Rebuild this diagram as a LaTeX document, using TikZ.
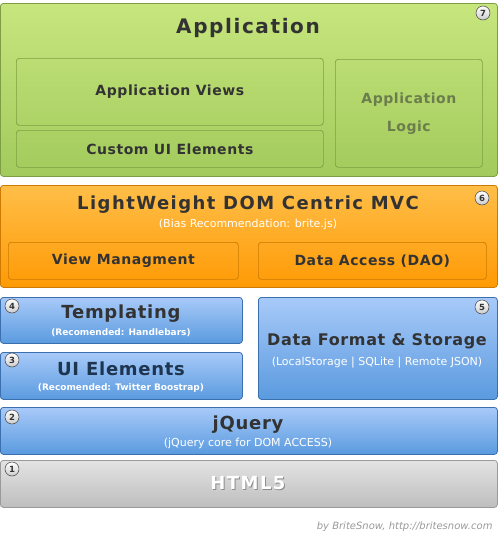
\documentclass[tikz,border=0pt]{standalone}
\usepackage{fontspec}
\setmainfont{DejaVu Sans}
\newfontfamily\widefont[LetterSpace=8]{DejaVu Sans}
\newfontfamily\midfont[LetterSpace=4]{DejaVu Sans}
\usetikzlibrary{positioning}

\definecolor{greentop}{HTML}{C7E67E}
\definecolor{greenbot}{HTML}{A2CA5C}
\definecolor{greenline}{HTML}{7E9E45}
\definecolor{orangetop}{HTML}{FFBE48}
\definecolor{orangebot}{HTML}{FF9A05}
\definecolor{orangeline}{HTML}{CC7A00}
\definecolor{bluetop}{HTML}{A8CAF9}
\definecolor{bluebot}{HTML}{5A9ADF}
\definecolor{blueline}{HTML}{3B6FAE}
\definecolor{graytop}{HTML}{E3E3E3}
\definecolor{graybot}{HTML}{BEBEBE}
\definecolor{grayline}{HTML}{9A9A9A}
\definecolor{textdark}{HTML}{333333}
\definecolor{logictext}{HTML}{6B7D4C}
\definecolor{navytext}{HTML}{1E3550}

\begin{document}
\begin{tikzpicture}
        [x=1pt, y=-1pt,
        layer/.style={rounded corners=3pt, anchor=north west, inner sep=0pt, line width=0.8pt},
        green/.style={layer, top color=greentop, bottom color=greenbot, draw=greenline},
        orange/.style={layer, top color=orangetop, bottom color=orangebot, draw=orangeline},
        blue/.style={layer, top color=bluetop, bottom color=bluebot, draw=blueline},
        gray/.style={layer, top color=graytop, bottom color=graybot, draw=grayline},
        inner/.style={rounded corners=3pt, anchor=north west, inner sep=0pt, line width=0.7pt},
        badge/.style={circle, draw=black!75, line width=0.5pt, top color=white, bottom color=black!20,
          minimum size=14pt, inner sep=0pt, font=\fontsize{8.5}{8.5}\bfseries, text=textdark},
        title/.style={font=\fontsize{18}{18}\bfseries\widefont, text=textdark},
        label/.style={font=\fontsize{14}{14}\bfseries\midfont, text=textdark},
        note/.style={font=\fontsize{11}{11}\selectfont, text=white}]

        \useasboundingbox (0,0) rectangle (500,544);

        % layer 7: application
        \node[green, minimum width=497pt, minimum height=173pt] (app) at (0,3) {};
        \node[inner, draw=greenline, minimum width=307pt, minimum height=67pt] (views) at (16,58) {};
        \node[inner, draw=greenline, minimum width=307pt, minimum height=37pt] (custom) at (16,130) {};
        \node[inner, draw=greenline, minimum width=147pt, minimum height=108pt] (logic) at (335,59) {};
        \node[title, font=\fontsize{20}{20}\bfseries\widefont] (apptitle) at (248,28) {Application};
        \node[label] at (views.center) {Application Views};
        \node[label] at (custom.center) {Custom UI Elements};
        \node[label, text=logictext, align=center, font=\fontsize{14}{28}\bfseries\midfont] at (logic.center) {Application\\Logic};

        % layer 6: mvc
        \node[orange, minimum width=497pt, minimum height=102pt] (mvc) at (0,185) {};
        \node[inner, draw=orangeline, minimum width=230pt, minimum height=37pt] (viewmgmt) at (8,242) {};
        \node[inner, draw=orangeline, minimum width=228pt, minimum height=37pt] (dao) at (258,242) {};
        \node[title] (mvctitle) at (248,205) {LightWeight DOM Centric MVC};
        \node[note] at (248,224) {(Bias Recommendation: brite.js)};
        \node[label] at (viewmgmt.center) {View Managment};
        \node[label] at (dao.center) {Data Access (DAO)};

        % layers 3 to 5
        \node[blue, minimum width=242pt, minimum height=46pt] (tmpl) at (0,297) {};
        \node[blue, minimum width=242pt, minimum height=47pt] (uiel) at (0,352) {};
        \node[blue, minimum width=239pt, minimum height=102pt] (data) at (258,297) {};
        \node[title, font=\fontsize{18}{18}\bfseries\midfont] at (121,314) {Templating};
        \node[note, font=\fontsize{9}{9}\bfseries] at (121,333) {(Recomended: Handlebars)};
        \node[title, font=\fontsize{18}{18}\bfseries\midfont, text=navytext] at (121,369) {UI Elements};
        \node[note, font=\fontsize{9}{9}\bfseries] at (121,388) {(Recomended: Twitter Boostrap)};
        \node[title, font=\fontsize{16}{16}\bfseries\midfont] at (377,341) {Data Format \& Storage};
        \node[note] at (377,363) {(LocalStorage | SQLite | Remote JSON)};

        % layer 2: jquery
        \node[blue, minimum width=497pt, minimum height=47pt] (jq) at (0,407) {};
        \node[title, font=\fontsize{18}{18}\bfseries\midfont] at (248,425) {jQuery};
        \node[note] at (248,443) {(jQuery core for DOM ACCESS)};

        % layer 1: html5
        \node[gray, minimum width=497pt, minimum height=47pt] (html) at (0,460) {};
        \node[title, text=black!45] at (249,484) {HTML5};
        \node[title, text=white] at (248,483) {HTML5};

        % numbered badges
        \node[badge] at (483,13) {7};
        \node[badge] at (482,198) {6};
        \node[badge] at (482,307) {5};
        \node[badge] at (12,306) {4};
        \node[badge] at (12,360) {3};
        \node[badge] at (12,417) {2};
        \node[badge] at (12,469) {1};

        % credit
        \node[anchor=east, font=\fontsize{10}{10}\itshape, text=black!40] at (496,527) {by BriteSnow, http://britesnow.com};

    \end{tikzpicture}
\end{document}
